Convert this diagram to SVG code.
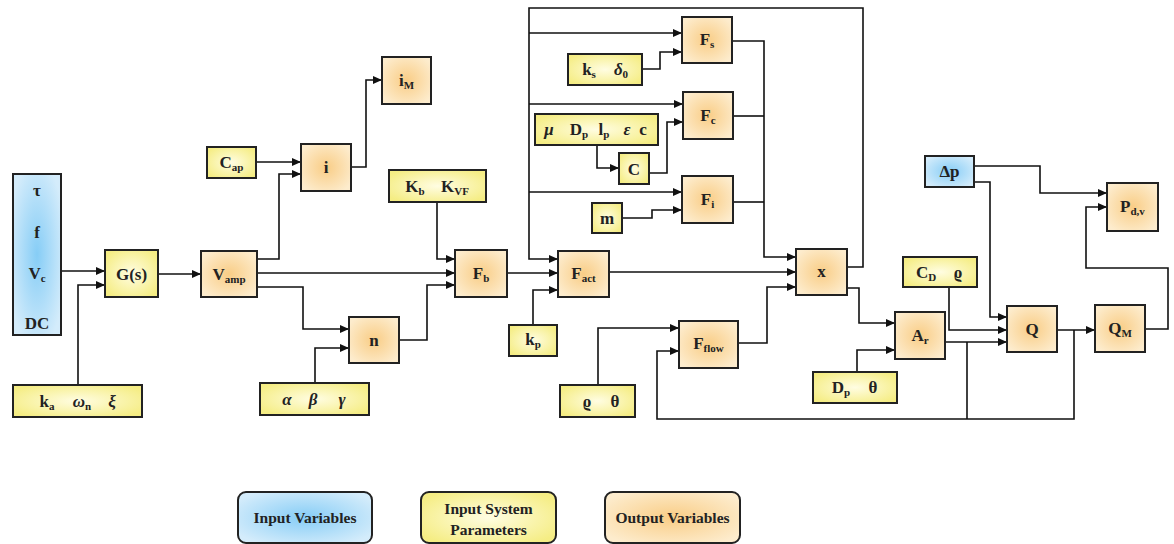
<svg xmlns="http://www.w3.org/2000/svg" width="1174" height="544" viewBox="0 0 1174 544">
<defs>
<radialGradient id="gBlue" cx="50%" cy="50%" r="60%">
<stop offset="0" stop-color="#86cdf6"/>
<stop offset="1" stop-color="#d4ecfb"/>
</radialGradient>
<radialGradient id="gYel" cx="50%" cy="50%" r="60%">
<stop offset="0" stop-color="#fffde2"/>
<stop offset="1" stop-color="#f5ed84"/>
</radialGradient>
<radialGradient id="gOra" cx="50%" cy="50%" r="60%">
<stop offset="0" stop-color="#f9cd86"/>
<stop offset="1" stop-color="#fdeccd"/>
</radialGradient>
<marker id="arr" markerUnits="userSpaceOnUse" markerWidth="9" markerHeight="8" refX="9" refY="4" orient="auto">
<path d="M0,0 L9,4 L0,8 Z" fill="#111"/>
</marker>
</defs>
<style>
.b{stroke:#222;stroke-width:2}
.bl{fill:url(#gBlue)}
.ye{fill:url(#gYel)}
.or{fill:url(#gOra)}
text{font-family:"Liberation Serif","DejaVu Serif",serif;font-weight:bold;font-size:17px;fill:#222;text-anchor:middle}
.s{font-size:11px}
.g{font-style:italic}
.lg{font-size:15.5px}
#conn path{fill:none;stroke:#111;stroke-width:1.6}
#conn path.a{marker-end:url(#arr)}
</style>

<g id="conn">
<path class="a" d="M61,271 H105"/>
<path class="a" d="M78,385 V285 H105"/>
<path class="a" d="M158,274 H201"/>
<path class="a" d="M257,259 H279 V174 H301"/>
<path class="a" d="M256,162 H301"/>
<path class="a" d="M351,167 H366 V80 H382"/>
<path class="a" d="M257,273 H455"/>
<path class="a" d="M257,287 H303 V329 H349"/>
<path class="a" d="M315,383 V348 H349"/>
<path class="a" d="M399,340 H427 V285 H455"/>
<path class="a" d="M437,202 V259 H455"/>
<path class="a" d="M507,273 H558"/>
<path class="a" d="M533,325 V290 H558"/>
<path class="a" d="M847,267 H863 V8 H529 V259 H558"/>
<path class="a" d="M529,33 H682"/>
<path class="a" d="M529,104 H683"/>
<path class="a" d="M529,192 H682"/>
<path class="a" d="M642,69 H660 V52 H682"/>
<path class="a" d="M597,145 V168 H619"/>
<path class="a" d="M649,173 H667 V122 H683"/>
<path class="a" d="M622,218 H652 V210 H682"/>
<path class="a" d="M732,41 H764 V257 H796"/>
<path d="M733,116 H764"/>
<path d="M733,202 H764"/>
<path class="a" d="M609,272 H796"/>
<path class="a" d="M738,343 H767 V287 H796"/>
<path class="a" d="M598,385 V328 H679"/>
<path class="a" d="M1074,330 V419 H657 V351 H679"/>
<path d="M967,342 V419"/>
<path class="a" d="M847,288 H859 V323 H895"/>
<path class="a" d="M857,372 V350 H895"/>
<path class="a" d="M945,342 H1007"/>
<path class="a" d="M949,287 V330 H1007"/>
<path class="a" d="M974,182 H990 V317 H1007"/>
<path class="a" d="M974,166 H1040 V193 H1107"/>
<path class="a" d="M1057,330 H1095"/>
<path class="a" d="M1145,329 H1168 V268 H1086 V207 H1107"/>
</g>

<g id="inputs">
<rect class="b bl" x="13" y="174" width="48" height="161"/>
<text x="37" y="196">τ</text>
<text x="37" y="238">f</text>
<text x="37" y="279">V<tspan class="s" dy="3">c</tspan></text>
<text x="37" y="329">DC</text>
</g>
<g id="ka">
<rect class="b ye" x="13" y="385" width="129" height="32"/>
<text x="47" y="407">k<tspan class="s" dy="3">a</tspan></text>
<text x="82" y="407"><tspan class="g">ω</tspan><tspan class="s" dy="3">n</tspan></text>
<text x="112" y="407" class="g">ξ</text>
</g>
<g id="Gs">
<rect class="b ye" x="105" y="250" width="53" height="47"/>
<text x="131.5" y="280">G(s)</text>
</g>
<g id="Vamp">
<rect class="b or" x="201" y="251" width="56" height="46"/>
<text x="229" y="280">V<tspan class="s" dy="3">amp</tspan></text>
</g>
<g id="Cap">
<rect class="b ye" x="207" y="147" width="49" height="31"/>
<text x="231.5" y="168">C<tspan class="s" dy="3">ap</tspan></text>
</g>
<g id="i">
<rect class="b or" x="301" y="144" width="50" height="47"/>
<text x="326" y="173">i</text>
</g>
<g id="iM">
<rect class="b or" x="382" y="57" width="49" height="47"/>
<text x="406.5" y="86">i<tspan class="s" dy="3">M</tspan></text>
</g>
<g id="Kb">
<rect class="b ye" x="389" y="170" width="97" height="32"/>
<text x="415" y="192">K<tspan class="s" dy="3">b</tspan></text>
<text x="455" y="192">K<tspan class="s" dy="3">VF</tspan></text>
</g>
<g id="Fb">
<rect class="b or" x="455" y="250" width="52" height="47"/>
<text x="481" y="279">F<tspan class="s" dy="3">b</tspan></text>
</g>
<g id="n">
<rect class="b or" x="349" y="317" width="50" height="46"/>
<text x="374" y="346">n</text>
</g>
<g id="abg">
<rect class="b ye" x="260" y="383" width="109" height="32"/>
<text x="287" y="405" class="g">α</text>
<text x="313" y="405" class="g">β</text>
<text x="342" y="405" class="g">γ</text>
</g>
<g id="Fact">
<rect class="b or" x="558" y="251" width="51" height="46"/>
<text x="583.5" y="279">F<tspan class="s" dy="3">act</tspan></text>
</g>
<g id="kp">
<rect class="b ye" x="509" y="325" width="48" height="31"/>
<text x="533" y="345">k<tspan class="s" dy="3">p</tspan></text>
</g>
<g id="Fs">
<rect class="b or" x="682" y="17" width="50" height="46"/>
<text x="707" y="45">F<tspan class="s" dy="3">s</tspan></text>
</g>
<g id="ks">
<rect class="b ye" x="568" y="54" width="74" height="31"/>
<text x="589" y="75">k<tspan class="s" dy="3">s</tspan></text>
<text x="621" y="75"><tspan class="g">δ</tspan><tspan class="s" dy="3">0</tspan></text>
</g>
<g id="Fc">
<rect class="b or" x="683" y="92" width="50" height="47"/>
<text x="708" y="121">F<tspan class="s" dy="3">c</tspan></text>
</g>
<g id="mu">
<rect class="b ye" x="535" y="114" width="123" height="31"/>
<text x="549" y="135" class="g">μ</text>
<text x="579" y="135">D<tspan class="s" dy="3">p</tspan></text>
<text x="604" y="135">l<tspan class="s" dy="3">p</tspan></text>
<text x="627" y="135" class="g">ε</text>
<text x="643" y="135">c</text>
</g>
<g id="C">
<rect class="b ye" x="619" y="153" width="30" height="31"/>
<text x="634" y="175">C</text>
</g>
<g id="Fi">
<rect class="b or" x="682" y="176" width="51" height="47"/>
<text x="707.5" y="205">F<tspan class="s" dy="3">i</tspan></text>
</g>
<g id="m">
<rect class="b ye" x="592" y="203" width="30" height="30"/>
<text x="607" y="224">m</text>
</g>
<g id="x">
<rect class="b or" x="796" y="249" width="51" height="46"/>
<text x="821.5" y="277">x</text>
</g>
<g id="Fflow">
<rect class="b or" x="679" y="321" width="59" height="47"/>
<text x="708.5" y="349">F<tspan class="s" dy="3">flow</tspan></text>
</g>
<g id="rt">
<rect class="b ye" x="560" y="385" width="75" height="32"/>
<text x="587" y="407">ϱ</text>
<text x="615" y="407">θ</text>
</g>
<g id="Ar">
<rect class="b or" x="895" y="312" width="50" height="47"/>
<text x="920" y="341">A<tspan class="s" dy="3">r</tspan></text>
</g>
<g id="Dpt">
<rect class="b ye" x="813" y="372" width="84" height="31"/>
<text x="841" y="393">D<tspan class="s" dy="3">p</tspan></text>
<text x="873" y="393">θ</text>
</g>
<g id="CD">
<rect class="b ye" x="903" y="257" width="74" height="30"/>
<text x="926" y="278">C<tspan class="s" dy="3">D</tspan></text>
<text x="958" y="278">ϱ</text>
</g>
<g id="dp">
<rect class="b bl" x="925" y="156" width="49" height="31"/>
<text x="949.5" y="177">Δp</text>
</g>
<g id="Q">
<rect class="b or" x="1007" y="306" width="50" height="46"/>
<text x="1032" y="335">Q</text>
</g>
<g id="QM">
<rect class="b or" x="1095" y="305" width="50" height="47"/>
<text x="1120" y="334">Q<tspan class="s" dy="3">M</tspan></text>
</g>
<g id="Pdv">
<rect class="b or" x="1107" y="183" width="51" height="48"/>
<text x="1132.5" y="212">P<tspan class="s" dy="3">d,v</tspan></text>
</g>

<g id="legend">
<rect class="b bl" x="238" y="492" width="134" height="51" rx="8" stroke-width="1.5"/>
<text class="lg" x="305" y="523">Input Variables</text>
<rect class="b ye" x="421" y="492" width="135" height="51" rx="8" stroke-width="1.5"/>
<text class="lg" x="488.5" y="514">Input System</text>
<text class="lg" x="488.5" y="535">Parameters</text>
<rect class="b or" x="605" y="492" width="135" height="51" rx="8" stroke-width="1.5"/>
<text class="lg" x="672.5" y="523">Output Variables</text>
</g>
</svg>
